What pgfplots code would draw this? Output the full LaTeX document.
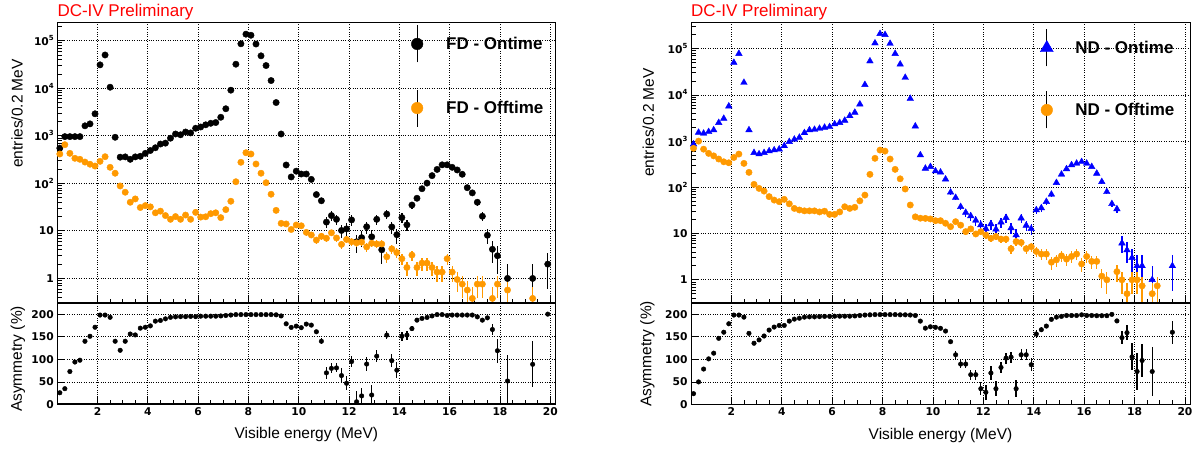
\documentclass[border=0pt]{standalone}
\usepackage{fontspec}
\setmainfont{Liberation Sans}
\newfontfamily\djv{DejaVu Sans}
\usepackage{pgfplots}
\usepackage{pgfplotstable}
\pgfplotsset{compat=1.18}
\definecolor{rootorange}{RGB}{255,153,0}
\definecolor{rootblue}{RGB}{0,0,255}
\definecolor{rootred}{RGB}{255,0,0}
\newcommand{\tf}{\djv\bfseries\fontsize{10.7}{12}\selectfont}
\newcommand{\sq}[1]{10\raisebox{0.45em}{\fontsize{7}{8}\selectfont #1}}
\newcommand{\lgf}{\bfseries\fontsize{17}{20}\selectfont}
\newcommand{\lbf}{\fontsize{15.5}{18}\selectfont}

\pgfplotstableread{
E N
0.5 550
0.7 960
0.9 960
1.1 960
1.3 960
1.5 1620
1.7 1780
1.9 2900
2.1 31000
2.3 50000
2.5 10500
2.7 930
2.9 355
3.1 360
3.3 320
3.5 360
3.7 370
3.9 427
4.1 490
4.3 560
4.5 670
4.7 700
4.9 890
5.1 1090
5.3 1050
5.5 1200
5.7 1150
5.9 1440
6.1 1530
6.3 1700
6.5 1830
6.7 1900
6.9 2450
7.1 3700
7.3 9100
7.5 32000
7.7 86000
7.9 137000
8.1 130000
8.3 85000
8.5 48000
8.7 30000
8.9 14500
9.1 5000
9.3 1090
9.5 243
9.7 136
9.9 180
10.1 157
10.3 157
10.5 121
10.7 58
10.9 43
11.1 15.3
11.3 21
11.5 17.5
11.7 10.2
11.9 11
12.1 17
12.3 5.9
12.5 7.2
12.7 12.2
12.9 7.5
13.1 17.5
13.3 4
13.5 22.5
13.7 12.1
13.9 8.3
14.1 19
14.3 13.4
14.5 35
14.7 48.5
14.9 77
15.1 101
15.3 145
15.5 196
15.7 245
15.9 245
16.1 217
16.3 191
16.5 155
16.7 81
16.9 63
17.1 40
17.3 20.3
17.5 8.1
17.7 4.1
17.9 3.0
18.3 1
19.3 1
19.9 2
}\fdon

\pgfplotstableread{
E N
0.5 414
0.7 650
0.9 427
1.1 336
1.3 320
1.5 280
1.7 252
1.9 231
2.1 290
2.3 363
2.5 217
2.7 163
2.9 88
3.1 65
3.3 40
3.5 47
3.7 31
3.9 34
4.1 32
4.3 24
4.5 26
4.7 21
4.9 17.5
5.1 20
5.3 17.5
5.5 21.5
5.7 17.5
5.9 24.5
6.1 19.5
6.3 19.8
6.5 23
6.7 24
6.9 19
7.1 28
7.3 42
7.5 108
7.7 277
7.9 440
8.1 414
8.3 255
8.5 163
8.7 103
8.9 59
9.1 27
9.3 14.4
9.5 14
9.7 10.7
9.9 13.3
10.1 12.8
10.3 9.3
10.5 8.2
10.7 6.4
10.9 7.7
11.1 7.0
11.3 9.1
11.5 7.1
11.7 5.2
11.9 6.6
12.1 5.9
12.3 5.6
12.5 5.8
12.7 4.6
12.9 5.5
13.1 5.3
13.3 5.3
13.5 2.85
13.7 4.2
13.9 3.5
14.1 2.6
14.3 1.7
14.5 3.1
14.7 1.7
14.9 2.1
15.1 2.1
15.3 1.7
15.5 1.36
15.7 1.36
15.9 2.6
16.1 1.36
16.3 0.95
16.5 0.76
16.7 0.57
16.9 0.38
17.1 0.76
17.3 0.76
17.7 0.38
17.9 0.76
18.3 0.57
19.3 0.38
}\fdoff

\pgfplotstableread{
E A e
0.5 26 0
0.7 35 0
0.9 73 0
1.1 94 0
1.3 98 0
1.5 140 0
1.7 151 0
1.9 171 0
2.1 198 0
2.3 198 0
2.5 193 0
2.7 140 0
2.9 120 0
3.1 140 0
3.3 156 0
3.5 154 0
3.7 169 0
3.9 171 0
4.1 174 0
4.3 184.5 0
4.5 186 0
4.7 189.6 0
4.9 193 0
5.1 194 0
5.3 194.5 0
5.5 194.5 0
5.7 195 0
5.9 194.5 0
6.1 195.5 0
6.3 195.5 0
6.5 195.5 0
6.7 195.5 0
6.9 196 0
7.1 197 0
7.3 198 0
7.5 199 0
7.7 199 0
7.9 199 0
8.1 199 0
8.3 199 0
8.5 199 0
8.7 199 0
8.9 199 0
9.1 198.5 0
9.3 196 0
9.5 178.6 0
9.7 170.6 0
9.9 173.5 0
10.1 170 0
10.3 178 0
10.5 175.7 0
10.7 161 4
10.9 140 7
11.1 70 13
11.3 80 11
11.5 81 10
11.7 64 17
11.9 47 15
12.1 95 12
12.3 6 23
12.5 19 18
12.7 89.5 15
12.9 21 23
13.1 107 13
13.5 153.6 8
13.7 97 15
13.9 76 17
14.1 151 10
14.3 153.6 10
14.5 168 5
14.7 186.7 0
14.9 190.5 0
15.1 192.7 0
15.3 196 0
15.5 199 0
15.7 199 0
15.9 197 0
16.1 198 0
16.3 198 0
16.5 198 0
16.7 198 0
16.9 198 0
17.1 194 0
17.3 186.7 0
17.5 191.8 0
17.7 166 13
17.9 119 27
18.3 52 58
19.3 89 51
19.9 200 0
}\fdasym

\pgfplotstableread{
E N
0.5 860
0.7 1540
0.9 1470
1.1 1590
1.3 1740
1.5 2500
1.7 3080
1.9 5700
2.1 50000
2.3 78000
2.5 18500
2.7 1740
2.9 560
3.1 525
3.3 560
3.5 610
3.7 640
3.9 670
4.1 790
4.3 970
4.5 1090
4.7 1200
4.9 1510
5.1 1740
5.3 1780
5.5 1870
5.7 1980
5.9 2040
6.1 2340
6.3 2500
6.5 2800
6.7 3520
6.9 4170
7.1 6300
7.3 16600
7.5 53800
7.7 132000
7.9 210000
8.1 200000
8.3 129000
8.5 78000
8.7 46000
8.9 23700
9.1 8300
9.3 2100
9.5 500
9.7 257
9.9 279
10.1 225
10.3 212
10.5 150
10.7 78
10.9 60
11.1 38
11.3 28.5
11.5 24
11.7 19.3
11.9 15.4
12.1 12.7
12.3 16.1
12.5 12.4
12.7 17.6
12.9 22
13.1 13.2
13.3 9.3
13.5 21.5
13.7 15
13.9 12.7
14.1 32.4
14.3 35.8
14.5 49
14.7 70.5
14.9 126
15.1 191
15.3 250
15.5 305
15.7 330
15.9 357
16.1 330
16.3 279
16.5 200
16.7 132
16.9 80
17.1 44
17.3 34
17.5 6.2
17.7 4.4
17.9 3.0
18.1 2.0
18.3 2.0
18.7 1
19.5 2
}\ndon

\pgfplotstableread{
E N
0.5 700
0.7 1000
0.9 670
1.1 543
1.3 480
1.5 410
1.7 357
1.9 340
2.1 443
2.3 525
2.5 330
2.7 211
2.9 116
3.1 95
3.3 83
3.5 63
3.7 53
3.9 49
4.1 55
4.3 44
4.5 35
4.7 32.4
4.9 31
5.1 31
5.3 31
5.5 29.4
5.7 30.5
5.9 26
6.1 26
6.3 29.4
6.5 38
6.7 35
6.9 37
7.1 51
7.3 68
7.5 191
7.7 425
7.9 640
8.1 608
8.3 410
8.5 245
8.7 153
8.9 92
9.1 41.5
9.3 23
9.5 21.5
9.7 21.3
9.9 20.7
10.1 19
10.3 19
10.5 16.7
10.7 14.1
10.9 18.1
11.1 15.2
11.3 11
11.5 12.6
11.7 9.8
11.9 11
12.1 9.3
12.3 7.9
12.5 8.6
12.7 7.6
12.9 7.6
13.1 4.7
13.3 6.7
13.5 6.4
13.7 4.7
13.9 5.2
14.1 4.1
14.3 3.6
14.5 3.6
14.7 2.4
14.9 2.7
15.1 3.3
15.3 2.8
15.5 3.2
15.7 3.6
15.9 2.2
16.1 3.2
16.3 2.5
16.5 2.5
16.7 1.2
16.9 1.0
17.3 1.5
17.5 1.0
17.7 0.5
17.9 1.0
18.1 1.0
18.3 0.74
18.7 0.5
18.9 0.74
}\ndoff

\pgfplotstableread{
E A e
0.5 24 0
0.7 50 0
0.9 78.5 0
1.1 101 0
1.3 113.6 0
1.5 146.5 0
1.7 160 0
1.9 178.7 0
2.1 198 0
2.3 198 0
2.5 193.4 0
2.7 157.5 0
2.9 135.6 0
3.1 143 0
3.3 151.6 0
3.5 164.8 0
3.7 171.4 0
3.9 175 0
4.1 175 0
4.3 184.6 0
4.5 189 0
4.7 191 0
4.9 193.4 0
5.1 194 0
5.3 194 0
5.5 194.5 0
5.7 195 0
5.9 195 0
6.1 195.5 0
6.3 195.5 0
6.5 195.5 0
6.7 195.5 0
6.9 196 0
7.1 197 0
7.3 198 0
7.5 198.5 0
7.7 199 0
7.9 199 0
8.1 199 0
8.3 199 0
8.5 199 0
8.7 198.5 0
8.9 198.5 0
9.1 198 0
9.3 197 0
9.5 184.6 0
9.7 169 0
9.9 172 0
10.1 170.8 0
10.3 168.6 0
10.5 162.6 0
10.7 139 4
10.9 110 9
11.1 89.5 9.5
11.3 89.5 9.5
11.5 66 11
11.7 66 11
11.9 35 15
12.1 27 16
12.3 69.7 15
12.5 35 17
12.7 82 13
12.9 102.6 12
13.1 104.8 12
13.3 35 19
13.5 110 12
13.7 110 12
13.9 88 14
14.1 156 9
14.3 165.5 6
14.5 173.6 4
14.7 188.4 0
14.9 193.4 0
15.1 195 0
15.3 197 0
15.5 197 0
15.7 197 0
15.9 198.5 0
16.1 197 0
16.3 197 0
16.5 196.5 0
16.7 196.5 0
16.9 196.5 0
17.1 199.5 0
17.3 185 0
17.5 148 15
17.7 159 16
17.9 105.5 30
18.1 73 40
18.3 97.4 37
18.7 73 55
19.5 160 25
}\ndasym

\pgfplotsset{
  dcbase/.style={scale only axis, width=498pt, xmin=0.4, xmax=20.2,
    xtick={2,4,...,20}, minor x tick num=3,
    xtick pos=left, ytick pos=left, tick align=inside,
    major tick length=8pt, minor tick length=4.5pt,
    every tick/.style={black, line width=0.8pt},
    grid=major, major grid style={black, dotted, line width=0.8pt},
    axis line style={line width=0.8pt},
    tick label style={font=\tf},
    label style={font=\lbf},
  },
  dctop/.style={dcbase, height=281.3pt,
    ytick={1,10,100,1000,10000,100000},
    yticklabels={1,10,\sq{2},\sq{3},\sq{4},\sq{5}},
    minor ytick={0.3,0.4,0.5,0.6,0.7,0.8,0.9,2,3,4,5,6,7,8,9,20,30,40,50,60,70,80,90,200,300,400,500,600,700,800,900,2000,3000,4000,5000,6000,7000,8000,9000,20000,30000,40000,50000,60000,70000,80000,90000,200000,300000},
    xticklabels={},
    ylabel={entries/0.2 MeV},
    legend cell align=left,
  },
  dcbot/.style={dcbase, height=101.2pt, ymin=0, ymax=224,
    ytick={0,50,100,150,200}, yticklabels={0,50,100,150,200},
    xticklabels={2,4,6,8,10,12,14,16,18,20},
    xlabel={Visible energy (MeV)},
    xlabel style={at={(axis description cs:0.5,0)}, anchor=base, yshift=-34.5pt},
    ylabel={Asymmetry (\%)},
  },
}
\newcommand{\legimgcode}[1]{\draw[black,line width=1.3pt] (0pt,-18.5pt) -- (0pt,18.5pt);
    \draw[only marks, mark size=#1] plot coordinates {(0pt,0pt)};
    \path[draw=none,fill=none] (-4pt,-0.1pt) rectangle (20pt,0.1pt);}

\begin{document}
\begin{tikzpicture}
\useasboundingbox (0pt,0pt) rectangle (1200pt,450pt);

% ---------------- left: FD ----------------
\begin{semilogyaxis}[dctop, at={(57.3pt,146.7pt)}, anchor=south west,
  ymin=0.3, ymax=2.47e5,
  ylabel style={at={(axis description cs:-0.081,0.675)}, anchor=center},
  legend style={draw=none, fill=none, at={(axis description cs:0.711,0.99)},
    anchor=north west, inner sep=0pt, outer sep=0pt, row sep=25.8pt,
    column sep=7pt, font=\lgf}]
\addplot[legend image code/.code={\legimgcode{5.8pt}}, only marks, mark=*, mark size=3.2pt, color=black,
    error bars/.cd, y dir=both, y explicit, error mark=none,
    error bar style={line width=1.3pt, black}] table[x=E, y=N,
  y error plus expr={sqrt(\thisrow{N})},
  y error minus expr={min(sqrt(\thisrow{N}),0.999*\thisrow{N})}] {\fdon};
\addlegendentry{FD - Ontime}
\addplot[legend image code/.code={\legimgcode{5.8pt}}, only marks, mark=*, mark size=3.2pt, color=rootorange,
    error bars/.cd, y dir=both, y explicit, error mark=none,
    error bar style={line width=1.3pt, rootorange}] table[x=E, y=N,
  y error plus expr={sqrt(0.19*\thisrow{N})},
  y error minus expr={min(sqrt(0.19*\thisrow{N}),0.999*\thisrow{N})}] {\fdoff};
\addlegendentry{FD - Offtime}
\draw[line width=2pt] (rel axis cs:0,0) -- (rel axis cs:1,0);
\end{semilogyaxis}

\begin{axis}[dcbot, at={(57.3pt,45.5pt)}, anchor=south west,
  ylabel style={at={(axis description cs:-0.079,0.45)}, anchor=center}]
\addplot[only marks, mark=*, mark size=2.3pt, color=black,
    error bars/.cd, y dir=both, y explicit, error mark=none,
    error bar style={line width=1.3pt, black}] table[x=E, y=A, y error=e] {\fdasym};
\draw[line width=2pt] (rel axis cs:0,0) -- (rel axis cs:1,0);
\draw[line width=2pt] (rel axis cs:0,1) -- (rel axis cs:1,1);
\end{axis}

% ---------------- right: ND ----------------
\begin{semilogyaxis}[dctop, at={(691pt,146.7pt)}, anchor=south west, width=499pt,
  ymin=0.31, ymax=3.78e5,
  ylabel style={at={(axis description cs:-0.0855,0.643)}, anchor=center},
  legend style={draw=none, fill=none, at={(axis description cs:0.700,0.9757)},
    anchor=north west, inner sep=0pt, outer sep=0pt, row sep=23.7pt,
    column sep=6.5pt, font=\lgf}]
\addplot[legend image code/.code={\legimgcode{7.5pt}}, only marks, mark=triangle*, mark size=3.8pt, color=rootblue,
    error bars/.cd, y dir=both, y explicit, error mark=none,
    error bar style={line width=1.3pt, rootblue}] table[x=E, y=N,
  y error plus expr={sqrt(\thisrow{N})},
  y error minus expr={min(sqrt(\thisrow{N}),0.999*\thisrow{N})}] {\ndon};
\addlegendentry{ND - Ontime}
\addplot[legend image code/.code={\legimgcode{5.8pt}}, only marks, mark=*, mark size=3.2pt, color=rootorange,
    error bars/.cd, y dir=both, y explicit, error mark=none,
    error bar style={line width=1.3pt, rootorange}] table[x=E, y=N,
  y error plus expr={sqrt(0.25*\thisrow{N})},
  y error minus expr={min(sqrt(0.25*\thisrow{N}),0.999*\thisrow{N})}] {\ndoff};
\addlegendentry{ND - Offtime}
\draw[line width=2pt] (rel axis cs:0,0) -- (rel axis cs:1,0);
\end{semilogyaxis}

\begin{axis}[dcbot, at={(691pt,45.5pt)}, anchor=south west, width=499pt,
  ylabel style={at={(axis description cs:-0.0875,0.5)}, anchor=center}]
\addplot[only marks, mark=*, mark size=2.3pt, color=black,
    error bars/.cd, y dir=both, y explicit, error mark=none,
    error bar style={line width=1.3pt, black}] table[x=E, y=A, y error=e] {\ndasym};
\draw[line width=2pt] (rel axis cs:0,0) -- (rel axis cs:1,0);
\draw[line width=2pt] (rel axis cs:0,1) -- (rel axis cs:1,1);
\end{axis}

\node[anchor=base west, text=rootred, font=\fontsize{17}{20}\selectfont, inner sep=0pt] at (57.3pt,433.5pt) {DC-IV Preliminary};
\node[anchor=base west, text=rootred, font=\fontsize{17}{20}\selectfont, inner sep=0pt] at (691pt,433.5pt) {DC-IV Preliminary};
\end{tikzpicture}
\end{document}
